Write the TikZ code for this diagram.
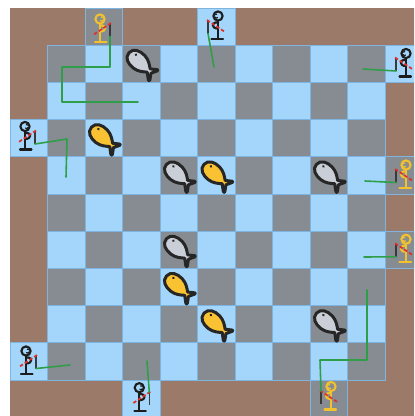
\documentclass[tikz,border=0pt]{standalone}
\begin{document}
\definecolor{bank}{HTML}{9C7A6A}
\definecolor{waterdark}{HTML}{878C92}
\definecolor{waterlight}{HTML}{A3D6FA}
\definecolor{gridline}{HTML}{7EB4E0}
\definecolor{fishgray}{HTML}{CACED6}
\definecolor{fishgold}{HTML}{F8C232}
\definecolor{outline}{HTML}{262626}
\definecolor{figyellow}{HTML}{F2C12E}
\definecolor{figblack}{HTML}{1C1C1C}
\definecolor{rodgray}{HTML}{3A3A3A}
\definecolor{sashred}{HTML}{E0302A}
\definecolor{linegreen}{HTML}{2E9E48}
\begin{tikzpicture}[x=0.02cm,y=-0.02cm,
  cell/.style={draw=gridline, line width=0.5pt},
  fishline/.style={draw=linegreen, line width=0.9pt, line join=round, line cap=round},
  fish/.pic={
    \filldraw[fill=#1, draw=outline, line width=1.7pt, line join=round]
      (-16.5,0) .. controls (-16.5,-6.5) and (-10,-9) .. (-3,-8.5)
      .. controls (3,-8) and (7,-4.5) .. (10,-2.2)
      -- (16,-6.5) .. controls (17,-6.5) and (17,-5.5) .. (16.3,-4.8)
      -- (13.5,0.5) -- (17.2,6.2) .. controls (17.8,7.2) and (17,7.8) .. (16,7.2)
      -- (10,2.2)
      .. controls (7,4.5) and (3,8) .. (-3,8.5)
      .. controls (-10,9) and (-16.5,6.5) .. (-16.5,0) -- cycle;
    \fill[outline] (-10,-3.2) circle[radius=1.4];
  },
  fisher/.pic={
    \begin{scope}[draw=#1, line width=1.2pt, line cap=round, line join=round]
      \draw (-3.5,-9.5) circle[radius=4.6];
      \draw[line width=0.7pt] (-2.2,-11.3) -- (-0.6,-11);
      \draw[line width=0.7pt] (-3,-8) .. controls (-2,-7) .. (-0.6,-8.3);
      \draw (-3.5,-4.9) -- (-3.5,13.5);
      \draw (-8.5,13.5) -- (3,13.5);
      \draw (-3.5,-3) .. controls (3,-4) and (4,3) .. (-3.5,3);
    \end{scope}
    \draw[rodgray, line width=0.9pt] (6.5,-5) -- (6.5,8);
    \draw[sashred, line width=1pt, dash pattern=on 2pt off 1.2pt] (7.5,-5.5) -- (-10.5,6.5);
    \coordinate (-rod) at (6.5,8);
    \coordinate (-tip) at (6.5,-5);
  },
]
\useasboundingbox (0,0) rectangle (414,416);
\clip (0,0) rectangle (414,416);
\fill[white] (0,0) rectangle (414,416);

% bank around the pond
\fill[bank] (10,8) rectangle (422.5,417.2);

% checkered pond
\foreach \r in {1,...,9}{
  \foreach \c in {1,...,9}{
    \pgfmathtruncatemacro\parity{mod(\r+\c,2)}
    \ifnum\parity=0 \def\cellcol{waterdark}\else\def\cellcol{waterlight}\fi
    \filldraw[cell, fill=\cellcol] ({10+37.5*\c},{8+37.2*\r}) rectangle +(37.5,37.2);
  }
}

% standing spots on the bank
\foreach \r/\c in {0/2,0/5,1/10,3/0,4/10,6/10,9/0,10/3,10/8}{
  \pgfmathtruncatemacro\parity{mod(\r+\c,2)}
  \ifnum\parity=0 \def\cellcol{waterdark}\else\def\cellcol{waterlight}\fi
  \filldraw[cell, fill=\cellcol] ({10+37.5*\c},{8+37.2*\r}) rectangle +(37.5,37.2);
}

% fish
\foreach \x/\y/\col in {141.25/63.8/fishgray, 103.75/138.2/fishgold,
    178.75/175.4/fishgray, 216.25/175.4/fishgold, 328.75/175.4/fishgray,
    178.75/249.8/fishgray, 178.75/287/fishgold, 216.25/324.2/fishgold,
    328.75/324.2/fishgray}{
  \pic[rotate=-42] at (\x,\y) {fish=\col};
}

% anglers
\pic (f1) at (103.5,28.5) {fisher=figyellow};
\pic[xscale=-1] (f2) at (214.5,25.5) {fisher=figblack};
\pic[xscale=-1] (f3) at (402.5,63) {fisher=figblack};
\pic (f4) at (28.5,136) {fisher=figblack};
\pic[xscale=-1] (f5) at (402.5,174.5) {fisher=figyellow};
\pic[xscale=-1] (f6) at (402.5,248.8) {fisher=figyellow};
\pic[xscale=-1] (f7) at (327.5,396) {fisher=figyellow};
\pic (f8) at (29.5,360.5) {fisher=figblack};
\pic (f9) at (142.8,397.2) {fisher=figblack};

% hook positions
\coordinate (h1) at (138,102);
\coordinate (h2) at (214,67);
\coordinate (h3) at (363,69);
\coordinate (h4) at (66,177);
\coordinate (h5) at (365,181);
\coordinate (h6) at (364,257);
\coordinate (h7) at (367,290);
\coordinate (h8) at (70,365);
\coordinate (h9) at (147,361);

% fishing lines
\draw[fishline] (f1-rod) -- (110,67) -- (62,67) -- (62,102) -- (h1);
\draw[fishline] (f2-rod) -- (h2);
\draw[fishline] (f3-rod) -- (h3);
\draw[fishline] (f4-rod) -- (67,139) -- (h4);
\draw[fishline] (f5-rod) -- (h5);
\draw[fishline] (f6-rod) -- (h6);
\draw[fishline] (f7-tip) -- (320,360) -- (367,360) -- (h7);
\draw[fishline] (f8-rod) -- (h8);
\draw[fishline] (f9-tip) -- (h9);
\end{tikzpicture}
\end{document}
